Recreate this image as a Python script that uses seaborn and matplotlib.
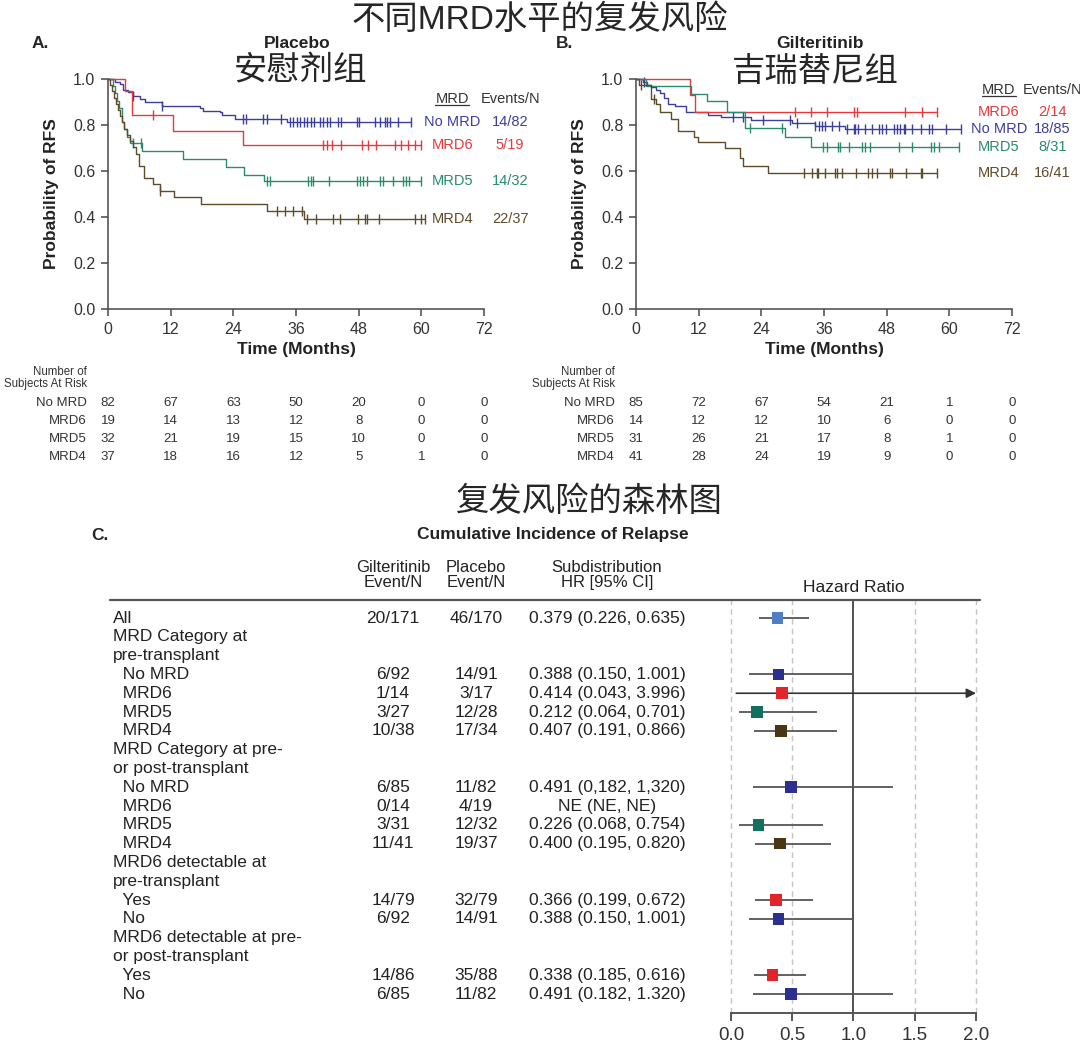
import numpy as np
import pandas as pd
import matplotlib
matplotlib.use('Agg')
import matplotlib.pyplot as plt
import matplotlib.transforms as mtransforms
from matplotlib.lines import Line2D
import seaborn as sns

sns.set_theme(style='ticks')
plt.rcParams['font.family'] = ['Liberation Sans', 'Noto Sans CJK SC']
plt.rcParams['axes.unicode_minus'] = False

# === colours ===
col_nomrd = '#3d3d9c'
col_mrd6 = '#e5393d'
col_mrd5 = '#2a8a6e'
col_mrd4 = '#5e4b2a'
axis_col = '#555555'

groups = ['No MRD', 'MRD6', 'MRD5', 'MRD4']
group_cols = [col_nomrd, col_mrd6, col_mrd5, col_mrd4]
time_ticks = [0, 12, 24, 36, 48, 60, 72]

# === Panel A: placebo (months / survival / censor times) ===
pla_nomrd_t = [0, 1.3, 2.3, 2.9, 3.9, 4.8, 6.1, 7.1, 10.3, 17.6, 18.2, 21.4, 21.8, 24.3, 34.2]
pla_nomrd_s = [1.0, 0.988, 0.978, 0.953, 0.942, 0.927, 0.913, 0.898, 0.884, 0.872, 0.862, 0.855, 0.843, 0.828, 0.814]
pla_nomrd_c = [4.8, 10.3, 25.9, 26.5, 29.7, 30.4, 33.2, 34.8, 35.5, 36.2, 36.8, 37.5, 38.1, 38.8, 39.4,
               40.6, 41.2, 41.9, 42.5, 44.1, 44.7, 47.6, 48.1, 51.1, 52.1, 53.0, 53.5, 54.0, 55.6, 58.1]

pla_mrd6_t = [0, 3.2, 4.5, 12.5, 25.8]
pla_mrd6_s = [1.0, 0.947, 0.842, 0.772, 0.712]
pla_mrd6_c = [8.7, 41.2, 41.9, 42.8, 44.7, 48.6, 49.8, 51.4, 54.9, 56.2, 57.5, 58.8, 60.0]

pla_mrd5_t = [0, 0.9, 1.3, 1.8, 2.2, 2.6, 3.1, 3.6, 4.2, 6.6, 14.4, 22.6, 26.0, 29.9]
pla_mrd5_s = [1.0, 0.969, 0.938, 0.906, 0.875, 0.812, 0.781, 0.75, 0.721, 0.687, 0.654, 0.618, 0.581, 0.557]
pla_mrd5_c = [4.8, 6.4, 30.4, 31.0, 38.3, 38.8, 39.3, 42.4, 47.7, 48.2, 48.9, 49.5, 52.1, 52.6,
              54.5, 56.5, 57.0, 57.7, 60.0]

pla_mrd4_t = [0, 0.4, 0.8, 1.2, 1.6, 1.9, 2.3, 2.7, 3.1, 3.6, 4.2, 4.8, 5.4, 6.0, 6.8, 8.7, 10.0,
              12.6, 17.9, 30.4, 37.5]
pla_mrd4_s = [1.0, 0.973, 0.946, 0.919, 0.892, 0.865, 0.838, 0.811, 0.784, 0.757, 0.730, 0.703,
              0.676, 0.622, 0.571, 0.542, 0.513, 0.487, 0.455, 0.426, 0.390]
pla_mrd4_c = [10.0, 32.3, 33.9, 35.5, 37.1, 38.2, 39.8, 43.1, 44.5, 47.9, 49.2, 49.5, 51.9, 58.8,
              60.0, 60.7]

pla_events = ['14/82', '5/19', '14/32', '22/37']
pla_risk_nomrd = [82, 67, 63, 50, 20, 0, 0]
pla_risk_mrd6 = [19, 14, 13, 12, 8, 0, 0]
pla_risk_mrd5 = [32, 21, 19, 15, 10, 0, 0]
pla_risk_mrd4 = [37, 18, 16, 12, 5, 1, 0]

# === Panel B: gilteritinib ===
gil_nomrd_t = [0, 1.3, 2.2, 2.9, 3.8, 4.5, 5.4, 6.1, 7.4, 9.6, 13.8, 16.3, 22.1, 29.8, 34.3, 40.1]
gil_nomrd_s = [1.0, 0.988, 0.976, 0.964, 0.952, 0.94, 0.917, 0.893, 0.881, 0.857, 0.845, 0.833,
               0.821, 0.809, 0.797, 0.782]
gil_nomrd_c = [1.6, 18.6, 20.5, 24.4, 29.5, 30.8, 34.3, 35.0, 35.6, 36.2, 37.5, 38.8, 40.4, 41.7,
               42.0, 42.6, 43.9, 45.2, 46.5, 47.1, 47.8, 49.4, 50.0, 50.6, 51.3, 51.6, 52.9, 54.5,
               56.1, 56.7, 59.3, 62.2]

gil_mrd6_t = [0, 10.3, 11.3]
gil_mrd6_s = [1.0, 0.929, 0.857]
gil_mrd6_c = [30.4, 33.5, 36.5, 41.7, 42.3, 51.5, 54.8, 57.7]

gil_mrd5_t = [0, 1.9, 10.6, 13.5, 17.5, 20.8, 28.5, 33.5]
gil_mrd5_s = [1.0, 0.968, 0.935, 0.903, 0.858, 0.785, 0.746, 0.706]
gil_mrd5_c = [21.8, 28.0, 35.9, 36.5, 38.7, 39.1, 40.7, 43.3, 43.9, 44.9, 50.3, 52.9, 56.4, 57.0,
              58.0, 61.9]

gil_mrd4_t = [0, 0.6, 2.9, 3.8, 4.5, 6.7, 8.0, 11.2, 11.9, 17.0, 19.9, 20.5, 25.3]
gil_mrd4_s = [1.0, 0.976, 0.913, 0.89, 0.855, 0.826, 0.775, 0.746, 0.724, 0.698, 0.658, 0.622, 0.59]
gil_mrd4_c = [0.9, 3.5, 32.1, 33.7, 34.6, 34.9, 36.1, 38.1, 38.5, 39.4, 42.1, 44.4, 45.2, 46.2,
              48.7, 49.0, 51.7, 54.5, 54.8, 57.7]

gil_events = ['18/85', '2/14', '8/31', '16/41']
gil_risk_nomrd = [85, 72, 67, 54, 21, 1, 0]
gil_risk_mrd6 = [14, 12, 12, 10, 6, 0, 0]
gil_risk_mrd5 = [31, 26, 21, 17, 8, 1, 0]
gil_risk_mrd4 = [41, 28, 24, 19, 9, 0, 0]

# === Panel C: forest plot ===
row_labels = ['All', 'MRD Category at', 'pre-transplant', '  No MRD', '  MRD6', '  MRD5', '  MRD4',
              'MRD Category at pre-', 'or post-transplant', '  No MRD', '  MRD6', '  MRD5', '  MRD4',
              'MRD6 detectable at', 'pre-transplant', '  Yes', '  No',
              'MRD6 detectable at pre-', 'or post-transplant', '  Yes', '  No']
gil_en = ['20/171', '', '', '6/92', '1/14', '3/27', '10/38', '', '', '6/85', '0/14', '3/31', '11/41',
          '', '', '14/79', '6/92', '', '', '14/86', '6/85']
plc_en = ['46/170', '', '', '14/91', '3/17', '12/28', '17/34', '', '', '11/82', '4/19', '12/32', '19/37',
          '', '', '32/79', '14/91', '', '', '35/88', '11/82']
hr_txt = ['0.379 (0.226, 0.635)', '', '', '0.388 (0.150, 1.001)', '0.414 (0.043, 3.996)',
          '0.212 (0.064, 0.701)', '0.407 (0.191, 0.866)', '', '', '0.491 (0,182, 1,320)', 'NE (NE, NE)',
          '0.226 (0.068, 0.754)', '0.400 (0.195, 0.820)', '', '', '0.366 (0.199, 0.672)',
          '0.388 (0.150, 1.001)', '', '', '0.338 (0.185, 0.616)', '0.491 (0.182, 1.320)']
nan = np.nan
hr_est = [0.379, nan, nan, 0.388, 0.414, 0.212, 0.407, nan, nan, 0.491, nan, 0.226, 0.400,
          nan, nan, 0.366, 0.388, nan, nan, 0.338, 0.491]
hr_lo = [0.226, nan, nan, 0.150, 0.043, 0.064, 0.191, nan, nan, 0.182, nan, 0.068, 0.195,
         nan, nan, 0.199, 0.150, nan, nan, 0.185, 0.182]
hr_hi = [0.635, nan, nan, 1.001, 3.996, 0.701, 0.866, nan, nan, 1.320, nan, 0.754, 0.820,
         nan, nan, 0.672, 1.001, nan, nan, 0.616, 1.320]
hr_grp = ['All', '', '', 'No MRD', 'MRD6', 'MRD5', 'MRD4', '', '', 'No MRD', 'MRD6', 'MRD5', 'MRD4',
          '', '', 'MRD6', 'No MRD', '', '', 'MRD6', 'No MRD']
forest_pal = {'All': '#4f7fc3', 'No MRD': '#2b2f8f', 'MRD6': '#e0262a', 'MRD5': '#12705e',
              'MRD4': '#4a3515'}
hr_ticks = [0.0, 0.5, 1.0, 1.5, 2.0]


fig = plt.figure(figsize=(10.8, 10.5), dpi=100)
W, H = 1080.0, 1050.0


def fx(px):
    return px / W


def fy(py):
    return 1 - py / H


def step_at(t, s, x):
    i = np.searchsorted(t, x, side='right') - 1
    return np.asarray(s)[i]


def draw_km(ax, curves):
    for (t, s, c), col in zip(curves, group_cols):
        tt = list(t) + [max(c)]
        ss = list(s) + [s[-1]]
        sns.lineplot(x=tt, y=ss, drawstyle='steps-post', estimator=None, color=col, lw=1.0,
                     legend=False, clip_on=False, ax=ax)
        ax.plot(c, step_at(t, s, c), ls='none', marker='|', ms=7, mew=1.0, color=col, clip_on=False)
    ax.set_xlim(0, 72)
    ax.set_ylim(0, 1)
    ax.set_xticks(time_ticks)
    ax.set_yticks(np.arange(0, 1.01, 0.2))
    ax.set_yticklabels([f'{v:.1f}' for v in np.arange(0, 1.01, 0.2)])
    ax.set_xlabel('Time (Months)', fontsize=12.5, fontweight='bold', labelpad=4, color='#222222')
    ax.set_ylabel('Probability of RFS', fontsize=12.5, fontweight='bold', labelpad=10, color='#222222')
    ax.tick_params(labelsize=11.5, length=5, width=1.2, color=axis_col, pad=4, labelcolor='#333333')
    sns.despine(ax=ax)
    for sp in ['left', 'bottom']:
        ax.spines[sp].set_color(axis_col)
        ax.spines[sp].set_linewidth(1.2)


def km_legend(ax, curves, events, header_y, lab_x, ev_x):
    hdr = ax.text(lab_x, header_y, 'MRD', ha='center', va='center', fontsize=10.5, color='#333333')
    ax.text(ev_x, header_y, 'Events/N', ha='center', va='center', fontsize=10.5, color='#333333')
    fig.canvas.draw()
    bb = hdr.get_window_extent().transformed(fig.transFigure.inverted())
    fig.add_artist(Line2D([bb.x0, bb.x1], [bb.y0 + 0.001, bb.y0 + 0.001], color='#333333', lw=0.9,
                          transform=fig.transFigure))
    for (t, s, c), g, ev, col in zip(curves, groups, events, group_cols):
        ax.text(lab_x, s[-1], g, ha='center', va='center', fontsize=10.5, color=col)
        ax.text(ev_x, s[-1], ev, ha='center', va='center', fontsize=10.5, color=col)


def risk_table(ax, risks):
    tr = ax.get_xaxis_transform()
    ax.text(-4.0, -0.274, 'Number of', ha='right', va='center', fontsize=8.3, color='#333333',
            transform=tr)
    ax.text(-4.0, -0.326, 'Subjects At Risk', ha='right', va='center', fontsize=8.3,
            color='#333333', transform=tr)
    for k, (g, r) in enumerate(zip(groups, risks)):
        yy = -0.409 - 0.078 * k
        ax.text(-4.0, yy, g, ha='right', va='center', fontsize=9.5, color='#333333', transform=tr)
        for xt, n in zip(time_ticks, r):
            ax.text(xt, yy, str(n), ha='center', va='center', fontsize=9.5, color='#333333',
                    transform=tr)


# --- panel A ---
axA = fig.add_axes([fx(108), fy(309), fx(376), 230 / H])
curvesA = [(pla_nomrd_t, pla_nomrd_s, pla_nomrd_c), (pla_mrd6_t, pla_mrd6_s, pla_mrd6_c),
           (pla_mrd5_t, pla_mrd5_s, pla_mrd5_c), (pla_mrd4_t, pla_mrd4_s, pla_mrd4_c)]
draw_km(axA, curvesA)
km_legend(axA, curvesA, pla_events, 0.913, 65.9, 77.0)
risk_table(axA, [pla_risk_nomrd, pla_risk_mrd6, pla_risk_mrd5, pla_risk_mrd4])

# --- panel B ---
axB = fig.add_axes([fx(636), fy(309), fx(376), 230 / H])
curvesB = [(gil_nomrd_t, gil_nomrd_s, gil_nomrd_c), (gil_mrd6_t, gil_mrd6_s, gil_mrd6_c),
           (gil_mrd5_t, gil_mrd5_s, gil_mrd5_c), (gil_mrd4_t, gil_mrd4_s, gil_mrd4_c)]
draw_km(axB, curvesB)
km_legend(axB, curvesB, gil_events, 0.952, 69.5, 79.7)
risk_table(axB, [gil_risk_nomrd, gil_risk_mrd6, gil_risk_mrd5, gil_risk_mrd4])

# --- titles ---
fig.text(fx(540), fy(20), '不同MRD水平的复发风险', ha='center', va='center', fontsize=24)
fig.text(fx(40), fy(44), 'A.', ha='center', va='center', fontsize=12.5, fontweight='bold')
fig.text(fx(297), fy(44), 'Placebo', ha='center', va='center', fontsize=12.5, fontweight='bold',
         color='#222222')
fig.text(fx(300), fy(72), '安慰剂组', ha='center', va='center', fontsize=24)
fig.text(fx(565), fy(44), 'B.', ha='center', va='center', fontsize=12.5, fontweight='bold')
fig.text(fx(820), fy(44), 'Gilteritinib', ha='center', va='center', fontsize=12.5,
         fontweight='bold', color='#222222')
fig.text(fx(815), fy(72), '吉瑞替尼组', ha='center', va='center', fontsize=24)
fig.text(fx(589), fy(502), '复发风险的森林图', ha='center', va='center', fontsize=24)
fig.text(fx(100), fy(535), 'C.', ha='center', va='center', fontsize=12.5, fontweight='bold')
fig.text(fx(553), fy(535), 'Cumulative Incidence of Relapse', ha='center', va='center',
         fontsize=12.5, fontweight='bold', color='#222222')

# --- panel C: forest ---
axF = fig.add_axes([fx(712.6), fy(1013), fx(268.3), 413 / H])
rows = np.arange(len(row_labels))
fdf = pd.DataFrame({'row': rows, 'hr': hr_est, 'lo': hr_lo, 'hi': hr_hi, 'grp': hr_grp})
fdf = fdf.dropna(subset=['hr'])

axF.set_xlim(-0.15, 2.04)
axF.set_ylim(21.01, -0.96)
for v in hr_ticks:
    if v == 1.0:
        axF.axvline(v, color='#222222', lw=1.1, zorder=1)
    else:
        axF.axvline(v, color='#c4c4c4', lw=1.0, ls=(0, (4, 3)), zorder=1)

for _, r in fdf.iterrows():
    if r['hi'] > hr_ticks[-1]:
        axF.annotate('', xy=(hr_ticks[-1], r['row']), xytext=(r['lo'], r['row']),
                     arrowprops=dict(arrowstyle='-|>', color='#333333', lw=1.2,
                                     mutation_scale=14, shrinkA=0, shrinkB=0))
    else:
        axF.hlines(r['row'], r['lo'], r['hi'], color='#555555', lw=1.3, zorder=2)

sns.scatterplot(data=fdf, x='hr', y='row', hue='grp', palette=forest_pal, marker='s', s=70,
                edgecolor='none', legend=False, zorder=3, ax=axF)
axF.set_xlabel('')
axF.set_ylabel('')
axF.set_yticks([])
axF.set_xticks(hr_ticks)
axF.set_xticklabels([f'{v:.1f}' for v in hr_ticks])
axF.tick_params(axis='x', labelsize=13.5, length=6, width=1.4, color=axis_col, pad=4,
                labelcolor='#333333')
for sp in ['left', 'right', 'top']:
    axF.spines[sp].set_visible(False)
axF.spines['bottom'].set_bounds(0, 2)
axF.spines['bottom'].set_color(axis_col)
axF.spines['bottom'].set_linewidth(1.4)

# table text
tb = mtransforms.blended_transform_factory(fig.transFigure, axF.transData)
for i, (lab, g, p, h) in enumerate(zip(row_labels, gil_en, plc_en, hr_txt)):
    axF.text(fx(113), i, lab, ha='left', va='center', fontsize=12.5, color='#222222', transform=tb)
    axF.text(fx(393), i, g, ha='center', va='center', fontsize=12.5, color='#222222', transform=tb)
    axF.text(fx(476), i, p, ha='center', va='center', fontsize=12.5, color='#222222', transform=tb)
    axF.text(fx(607), i, h, ha='center', va='center', fontsize=12.5, color='#222222', transform=tb)

axF.text(fx(393), -2.3, 'Gilteritinib\nEvent/N', ha='center', va='center', fontsize=12,
         linespacing=1.05, color='#222222', transform=tb)
axF.text(fx(476), -2.3, 'Placebo\nEvent/N', ha='center', va='center', fontsize=12,
         linespacing=1.05, color='#222222', transform=tb)
axF.text(fx(607), -2.3, 'Subdistribution\nHR [95% CI]', ha='center', va='center', fontsize=12,
         linespacing=1.05, color='#222222', transform=tb)
axF.text(1.0, -1.65, 'Hazard Ratio', ha='center', va='center', fontsize=12.5, color='#222222')

tl = mtransforms.blended_transform_factory(fig.transFigure, axF.transAxes)
axF.plot([fx(110), fx(980)], [1, 1], color='#555555', lw=1.6, transform=tl, clip_on=False)

fig.savefig('out.png', dpi=100)
